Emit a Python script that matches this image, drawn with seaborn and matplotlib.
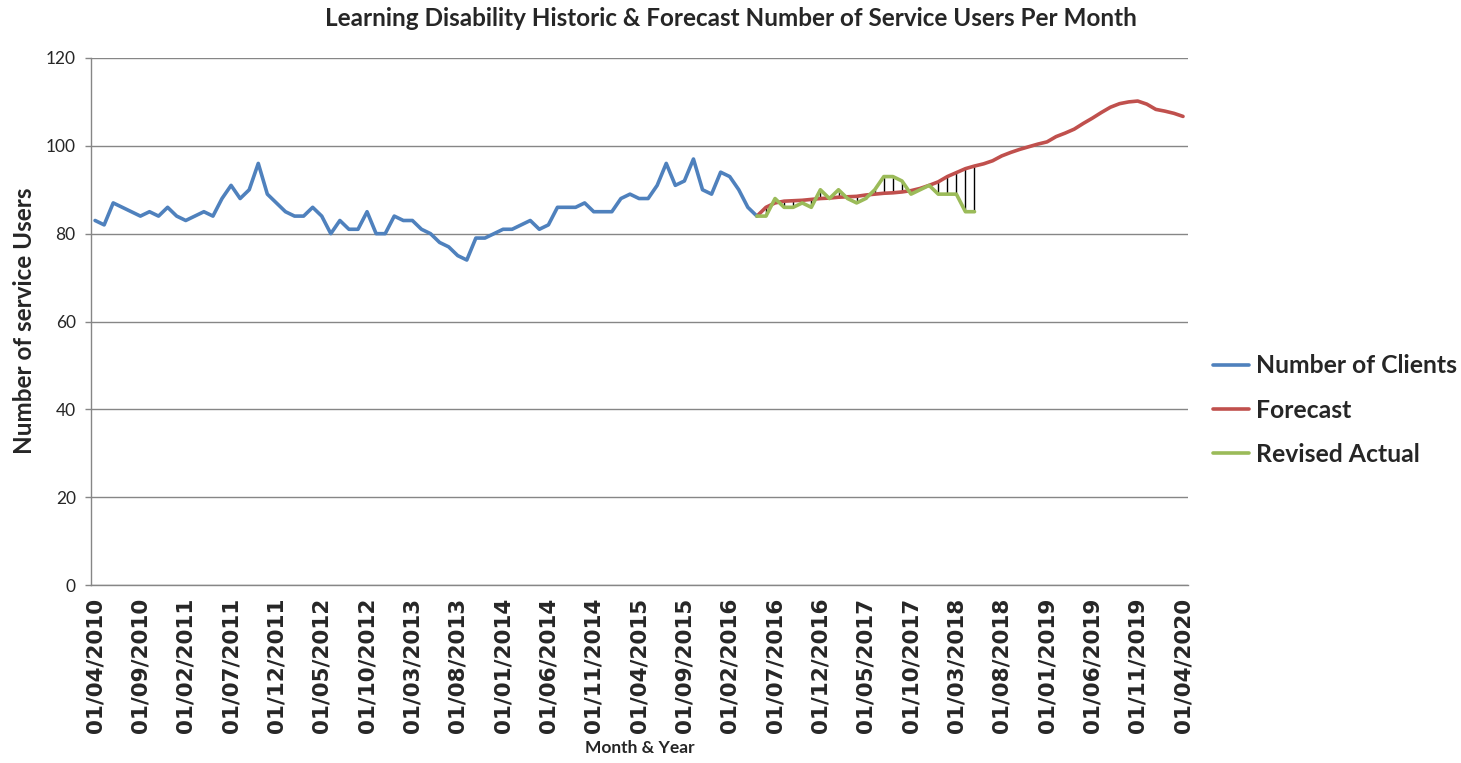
import pandas as pd
import numpy as np
import matplotlib
matplotlib.use("Agg")
import matplotlib.pyplot as plt
import seaborn as sns

# monthly data, starting 01/04/2010
start = "2010-04-01"
n_months = 121

clients = [83, 82, 87, 86, 85, 84, 85, 84, 86, 84, 83, 84, 85, 84, 88, 91, 88, 90, 96, 89,
           87, 85, 84, 84, 86, 84, 80, 83, 81, 81, 85, 80, 80, 84, 83, 83, 81, 80, 78, 77,
           75, 74, 79, 79, 80, 81, 81, 82, 83, 81, 82, 86, 86, 86, 87, 85, 85, 85, 88, 89,
           88, 88, 91, 96, 91, 92, 97, 90, 89, 94, 93, 90, 86, 84]

forecast_start = 73
forecast = [84, 86, 87, 87.4, 87.5, 87.6, 87.8, 88, 88.1, 88.3, 88.4, 88.5, 88.8, 89, 89.2, 89.3,
            89.5, 89.8, 90.3, 91, 91.8, 93, 93.9, 94.8, 95.4, 95.9, 96.6, 97.7, 98.5, 99.2, 99.8,
            100.4, 100.9, 102.1, 102.9, 103.8, 105.1, 106.3, 107.6, 108.8, 109.6, 110, 110.2,
            109.5, 108.3, 107.9, 107.4, 106.7]

revised_start = 73
revised = [84, 84, 88, 86, 86, 87, 86, 90, 88, 90, 88, 87, 88, 90, 93, 93, 92, 89, 90, 91,
           89, 89, 89, 85, 85]

months = pd.date_range(start, periods=n_months, freq="MS")
tick_labels = [d.strftime("%d/%m/%Y") for d in months[::5]]

blue = "#4F81BD"
red = "#C0504D"
green = "#9BBB59"

df_c = pd.DataFrame({"m": np.arange(len(clients)), "v": clients})
df_f = pd.DataFrame({"m": np.arange(forecast_start, forecast_start + len(forecast)), "v": forecast})
df_r = pd.DataFrame({"m": np.arange(revised_start, revised_start + len(revised)), "v": revised})

sns.set_style("white")
plt.rcParams["font.family"] = ["Lato", "DejaVu Sans"]

fig = plt.figure(figsize=(14.61, 7.63), dpi=100)
ax = fig.add_axes([91 / 1461, 1 - 585 / 763, (1188 - 91) / 1461, (585 - 58) / 763])

# high-low lines between forecast and revised actual
hl = df_r.merge(df_f, on="m", suffixes=("_r", "_f"))
ax.vlines(hl["m"], hl["v_r"], hl["v_f"], color="black", lw=1, zorder=1)

sns.lineplot(data=df_c, x="m", y="v", ax=ax, color=blue, lw=2.6, label="Number of Clients", zorder=3)
sns.lineplot(data=df_f, x="m", y="v", ax=ax, color=red, lw=2.6, label="Forecast", zorder=2)
sns.lineplot(data=df_r, x="m", y="v", ax=ax, color=green, lw=2.6, label="Revised Actual", zorder=3)

ax.set_ylim(0, 120)
ax.set_yticks(range(0, 121, 20))
ax.set_xlim(-0.45, 120.55)
ax.set_xticks(range(0, n_months, 5))
ax.set_xticklabels(tick_labels, rotation=90, fontsize=15.5, fontweight="bold", family="DejaVu Sans")
ax.tick_params(axis="x", length=0, pad=9)
ax.tick_params(axis="y", length=4, width=1, color="#868686", pad=7, labelsize=12.5, left=True)
ax.grid(axis="y", color="#868686", lw=1)
ax.set_axisbelow(True)
for s in ["top", "right"]:
    ax.spines[s].set_visible(False)
for s in ["left", "bottom"]:
    ax.spines[s].set_color("#868686")
    ax.spines[s].set_linewidth(1)

ax.set_xlabel("")
ax.set_ylabel("")
fig.text(25 / 1461, 1 - 321 / 763, "Number of service Users", rotation=90, ha="center", va="center",
         fontsize=17.5, fontweight="bold")
fig.text(640 / 1461, 1 - 748 / 763, "Month & Year", ha="center", va="center", fontsize=12.5, fontweight="bold")
fig.text(0.5, 1 - 19 / 763, "Learning Disability Historic & Forecast Number of Service Users Per Month",
         ha="center", va="center", fontsize=17.5, fontweight="bold")

ax.legend_.remove()
handles, labels = ax.get_legend_handles_labels()
fig.legend(handles, labels, loc="center left", bbox_to_anchor=(1213 / 1461, 1 - 410 / 763),
           frameon=False, prop={"size": 17.8, "weight": "bold"}, handlelength=1.45,
           handletextpad=0.3, labelspacing=0.85, borderaxespad=0, borderpad=0)

plt.savefig("out.png", dpi=100)
